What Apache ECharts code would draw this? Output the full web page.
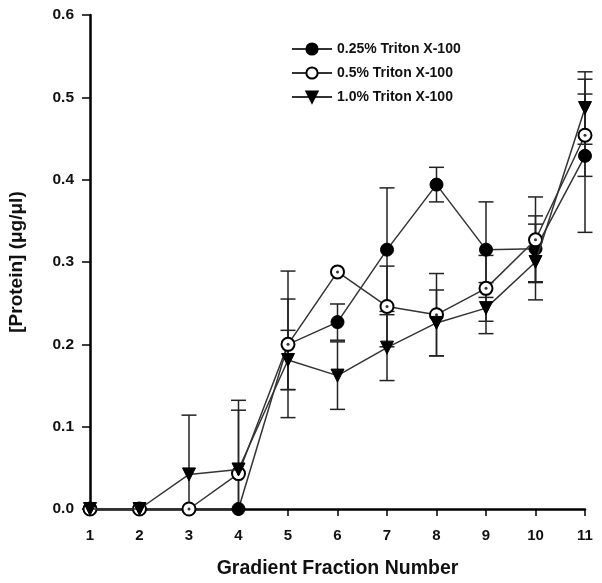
<!DOCTYPE html>
<html>
<head>
<meta charset="utf-8">
<script src="https://cdn.jsdelivr.net/npm/echarts@6/dist/echarts.min.js"></script>
<style>
html,body{margin:0;padding:0;background:#fff;}
#chart{width:602px;height:583px;}
</style>
</head>
<body>
<div id="chart"></div>
<script>
// ---- data ----
const fractions = [1,2,3,4,5,6,7,8,9,10,11];
const seriesNames = ['0.25% Triton X-100','0.5% Triton X-100','1.0% Triton X-100'];
const filledVals = [0,0,0,0,0.200,0.227,0.315,0.394,0.315,0.316,0.429];
const filledErr  = [0,0,0,0,0.089,0.022,0.075,0.021,0.058,0.040,0.093];
const openVals   = [0,0,0,0.043,0.200,0.288,0.246,0.236,0.268,0.327,0.454];
const openErr    = [0,0,0,0.077,0.055,0,0.049,0.050,0.040,0.052,0.050];
const triVals    = [0,0,0.042,0.048,0.181,0.162,0.196,0.226,0.244,0.300,0.487];
const triErr     = [0,0,0.072,0.084,0.036,0.041,0.040,0.040,0.031,0.046,0.044];
const yTicks = [0,0.1,0.2,0.3,0.4,0.5,0.6];

const FONT = '"Liberation Sans", Arial, sans-serif';
const chart = echarts.init(document.getElementById('chart'));

function pts(vals){ return fractions.map((f,i)=>[f, vals[i]]); }
function errData(vals, errs){ return fractions.map((f,i)=>[f, vals[i], errs[i]]); }

function errSeries(vals, errs, z){
  return {
    type:'custom', z:z, silent:true, clip:false,
    data: errData(vals, errs),
    renderItem: function(params, api){
      const e = api.value(2);
      if (!e) return null;
      const x = api.value(0), v = api.value(1);
      const lo = Math.max(0, v - e), hi = v + e;
      const pHi = api.coord([x, hi]);
      const pLo = api.coord([x, lo]);
      const half = 7.5;
      const style = {stroke:'#222', lineWidth:1.5, fill:null};
      const children = [
        {type:'line', shape:{x1:pHi[0], y1:pHi[1], x2:pLo[0], y2:pLo[1]}, style:style},
        {type:'line', shape:{x1:pHi[0]-half, y1:pHi[1], x2:pHi[0]+half, y2:pHi[1]}, style:style}
      ];
      if (v - e > 0) {
        children.push({type:'line', shape:{x1:pLo[0]-half, y1:pLo[1], x2:pLo[0]+half, y2:pLo[1]}, style:style});
      }
      return {type:'group', children:children};
    }
  };
}

const option = {
  animation:false,
  backgroundColor:'#fff',
  grid:{left:90, right:17, top:15, bottom:74, containLabel:false, outerBoundsMode:'none'},
  legend:{
    data:seriesNames,
    orient:'vertical',
    left:286, top:37,
    itemWidth:40, itemHeight:14, itemGap:10,
    textStyle:{fontFamily:FONT, fontWeight:'bold', fontSize:14, color:'#111'}
  },
  xAxis:{
    type:'value', min:1, max:11, interval:1,
    name:'Gradient Fraction Number', nameLocation:'middle', nameGap:50,
    nameTextStyle:{fontFamily:FONT, fontWeight:'bold', fontSize:19.5, color:'#111'},
    axisLine:{show:true, onZero:false, lineStyle:{color:'#000', width:2.5}},
    axisTick:{show:true, length:7, lineStyle:{color:'#000', width:1.5}},
    axisLabel:{fontFamily:FONT, fontWeight:'bold', fontSize:15, color:'#111', margin:19},
    splitLine:{show:false}
  },
  yAxis:{
    type:'value', min:0, max:0.6, interval:0.1,
    name:'[Protein] (\u03bcg/\u03bcl)', nameLocation:'middle', nameGap:64, nameRotate:90,
    nameTextStyle:{fontFamily:FONT, fontWeight:'bold', fontSize:19, color:'#111'},
    axisLine:{show:true, lineStyle:{color:'#000', width:2.5}},
    axisTick:{show:true, length:8, lineStyle:{color:'#000', width:1.5}},
    axisLabel:{fontFamily:FONT, fontWeight:'bold', fontSize:15.5, color:'#111', margin:16,
      formatter:function(v){ return yTicks.indexOf(Math.round(v*10)/10) >= 0 ? v.toFixed(1) : ''; }},
    splitLine:{show:false}
  },
  series:[
    errSeries(filledVals, filledErr, 2),
    errSeries(openVals, openErr, 2),
    errSeries(triVals, triErr, 2),
    {
      name:seriesNames[0], type:'line', z:3, clip:false,
      data:pts(filledVals),
      symbol:'circle', symbolSize:13,
      lineStyle:{color:'#333', width:1.5},
      itemStyle:{color:'#000', borderColor:'#000', borderWidth:1}
    },
    {
      name:seriesNames[1], type:'line', z:4, clip:false,
      data:pts(openVals),
      symbol:'emptyCircle', symbolSize:13,
      lineStyle:{color:'#333', width:1.5},
      itemStyle:{color:'#000', borderColor:'#000', borderWidth:1.5}
    },
    {
      name:'dots', type:'scatter', z:5, clip:false, silent:true,
      data:pts(openVals), symbol:'circle', symbolSize:3,
      itemStyle:{color:'#000'}
    },
    {
      name:seriesNames[2], type:'line', z:6, clip:false,
      data:pts(triVals),
      symbol:'triangle', symbolRotate:180, symbolSize:13,
      lineStyle:{color:'#333', width:1.5},
      itemStyle:{color:'#000', borderColor:'#000', borderWidth:1}
    }
  ]
};
chart.setOption(option);
</script>
</body>
</html>
